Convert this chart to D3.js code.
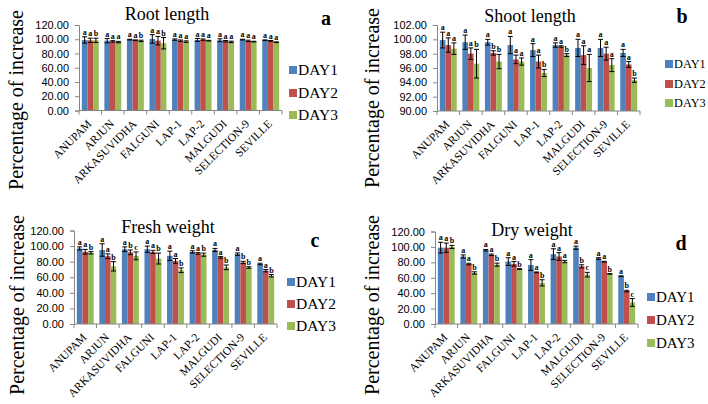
<!DOCTYPE html>
<html>
<head>
<meta charset="utf-8">
<script src="https://cdn.jsdelivr.net/npm/d3@7"></script>
<style>
  body { margin: 0; background: #fff; }
  svg { display: block; }
</style>
</head>
<body>
<div id="chart"></div>
<script>
const cultivars = ["ANUPAM", "ARJUN", "ARKASUVIDHA", "FALGUNI", "LAP-1", "LAP-2", "MALGUDI", "SELECTION-9", "SEVILLE"];
const days = ["DAY1", "DAY2", "DAY3"];
const colors = ["#4F81BD", "#C0504D", "#9BBB59"];

// rows = DAY1, DAY2, DAY3
const rootMean = [
  [99, 98, 99.5, 100.5, 99.5, 99, 98.6, 99.5, 98.6],
  [98.5, 97, 98.6, 98, 98, 99.5, 97.2, 97.7, 97.7],
  [98.5, 96, 97.7, 94.4, 96.7, 98, 96.3, 96.7, 95.8]
];
const rootErr = [
  [4.5, 3, 0.5, 6, 1, 2, 2, 0.5, 0.5],
  [3, 1, 0.5, 6, 1, 1, 1, 1, 0.5],
  [3, 1, 1, 8, 1, 0.5, 1, 0.5, 0.5]
];
const rootSig = [
  ["a", "a", "a", "a", "a", "a", "a", "a", "a"],
  ["a", "a", "a", "a", "a", "a", "a", "a", "a"],
  ["b", "a", "b", "b", "a", "a", "a", "a", "a"]
];

const shootMean = [
  [99.9, 99.6, 99.6, 99.2, 98.5, 99.2, 98.8, 98.8, 98.1],
  [99.2, 98.0, 98.1, 97.2, 96.9, 99.0, 97.8, 98.0, 96.5],
  [98.7, 96.6, 96.9, 96.9, 95.3, 97.8, 96.0, 96.4, 94.3]
];
const shootErr = [
  [1.1, 1.0, 0.4, 1.2, 0.9, 0.3, 1.2, 1.2, 0.5],
  [1.0, 0.8, 0.3, 0.6, 0.9, 0.1, 1.3, 0.9, 0.4],
  [0.8, 2.0, 1.0, 0.5, 0.5, 0.2, 1.9, 0.9, 0.3]
];
const shootSig = [
  ["a", "a", "a", "a", "a", "a", "a", "a", "a"],
  ["a", "a", "b", "a", "a", "a", "a", "a", "a"],
  ["a", "b", "b", "a", "b", "b", "a", "a", "b"]
];

const freshMean = [
  [97, 95, 96, 96, 87.5, 92.5, 95, 89.7, 77],
  [92.7, 87, 92, 92.5, 81, 90.6, 85.5, 79, 68.4],
  [91.4, 74, 87.5, 84, 69, 89, 72.7, 72.5, 62]
];
const freshErr = [
  [2, 8, 3, 4, 6, 1.5, 2, 1.5, 1],
  [3, 3, 3, 2, 3, 1, 1, 1.5, 1.5],
  [1.5, 6, 5, 7, 3, 2, 3, 1, 1.5]
];
const freshSig = [
  ["a", "a", "a", "a", "a", "a", "a", "a", "a"],
  ["a", "a", "b", "a", "a", "a", "a", "b", "a"],
  ["b", "b", "c", "b", "b", "b", "b", "b", "b"]
];

const dryMean = [
  [99, 87.6, 95.7, 81, 76.5, 90.6, 99, 85, 62],
  [99, 77.8, 89.7, 78, 67, 87.6, 74.8, 80.8, 42.7],
  [100, 66.2, 77, 71.3, 53.4, 81, 64, 65, 28]
];
const dryErr = [
  [7, 2, 1, 5, 7, 7, 2, 1, 0.5],
  [6, 1, 1, 3, 0.5, 5, 2, 0.5, 1],
  [2, 1.5, 2, 0.5, 4, 1.5, 3, 0.3, 5]
];
const drySig = [
  ["a", "a", "a", "a", "a", "a", "a", "a", "a"],
  ["a", "a", "a", "a", "a", "a", "b", "a", "b"],
  ["b", "b", "b", "b", "b", "a", "c", "b", "c"]
];

const rootTicks = [0, 20, 40, 60, 80, 100, 120];
const shootTicks = [90, 92, 94, 96, 98, 100, 102];

const W = 708, H = 404;
const svg = d3.select("#chart").append("svg")
  .attr("width", W).attr("height", H)
  .attr("viewBox", `0 0 ${W} ${H}`);

const panels = [
  { title: "Root length", tag: "a", mean: rootMean, err: rootErr, sig: rootSig, ticks: rootTicks,
    left: 79, top: 25, bottom: 110.5, width: 203, titleX: 167, titleY: 20, tagX: 326, tagY: 25,
    axTitleX: 16, axTitleY: 100, legX: 289, legY: [70, 93, 115], legSize: 15.5 },
  { title: "Shoot length", tag: "b", mean: shootMean, err: shootErr, sig: shootSig, ticks: shootTicks,
    left: 437, top: 25, bottom: 111, width: 203, titleX: 530, titleY: 22, tagX: 682, tagY: 23,
    axTitleX: 372, axTitleY: 98, legX: 665, legY: [64, 84, 103], legSize: 12.3 },
  { title: "Fresh weight", tag: "c", mean: freshMean, err: freshErr, sig: freshSig, ticks: rootTicks,
    left: 74, top: 230.5, bottom: 324, width: 203, titleX: 168, titleY: 233, tagX: 315, tagY: 247,
    axTitleX: 17, axTitleY: 305, legX: 287, legY: [282, 304, 326], legSize: 15.5 },
  { title: "Dry weight", tag: "d", mean: dryMean, err: dryErr, sig: drySig, ticks: rootTicks,
    left: 435, top: 231.5, bottom: 324, width: 203, titleX: 532, titleY: 236, tagX: 681, tagY: 250,
    axTitleX: 372, axTitleY: 305, legX: 647, legY: [297, 320, 343], legSize: 15 }
];

panels.forEach(p => {
  const g = svg.append("g");

  const x0 = d3.scaleBand()
    .domain(cultivars)
    .range([p.left, p.left + p.width])
    .paddingInner(0.25)
    .paddingOuter(0.125);

  const x1 = d3.scaleBand()
    .domain(days)
    .range([0, x0.bandwidth()]);

  const y = d3.scaleLinear()
    .domain(d3.extent(p.ticks))
    .range([p.bottom, p.top]);

  const base = d3.min(p.ticks);

  // bars, error bars, letters
  days.forEach((day, di) => {
    const rows = cultivars.map((c, ci) => ({
      c, m: p.mean[di][ci], e: p.err[di][ci], s: p.sig[di][ci]
    }));
    const bx = d => x0(d.c) + x1(day);
    const bw = x1.bandwidth();

    g.selectAll(null).data(rows).enter().append("rect")
      .attr("x", bx)
      .attr("y", d => y(d.m))
      .attr("width", bw)
      .attr("height", d => y(base) - y(d.m))
      .attr("fill", colors[di]);

    const eb = g.selectAll(null).data(rows).enter().append("g")
      .attr("stroke", "#000").attr("stroke-width", 1);
    eb.append("line")
      .attr("x1", d => bx(d) + bw / 2).attr("x2", d => bx(d) + bw / 2)
      .attr("y1", d => y(Math.min(d.m + d.e, p.ticks[p.ticks.length - 1])))
      .attr("y2", d => y(Math.max(d.m - d.e, base)));
    eb.append("line")
      .attr("x1", d => bx(d) + bw / 2 - 2.5).attr("x2", d => bx(d) + bw / 2 + 2.5)
      .attr("y1", d => y(d.m + d.e)).attr("y2", d => y(d.m + d.e));
    eb.append("line")
      .attr("x1", d => bx(d) + bw / 2 - 2.5).attr("x2", d => bx(d) + bw / 2 + 2.5)
      .attr("y1", d => y(d.m - d.e)).attr("y2", d => y(d.m - d.e));

    g.selectAll(null).data(rows).enter().append("text")
      .attr("x", d => bx(d) + bw / 2)
      .attr("y", d => y(d.m + d.e) - 2)
      .attr("text-anchor", "middle")
      .style("font-family", "'Liberation Serif', serif")
      .style("font-weight", "bold")
      .style("font-size", "8px")
      .text(d => d.s);
  });

  // y axis
  const yAxis = d3.axisLeft(y)
    .tickValues(p.ticks)
    .tickFormat(d3.format(".2f"))
    .tickSize(4)
    .tickPadding(6);
  const ya = g.append("g")
    .attr("transform", `translate(${p.left},0)`)
    .call(yAxis);
  ya.select(".domain").attr("stroke", "#868686");
  ya.selectAll(".tick line").attr("stroke", "#868686");
  ya.selectAll(".tick text")
    .style("font-family", "'Liberation Sans', Arial, sans-serif")
    .style("font-size", "11px")
    .attr("fill", "#000");

  // x axis with ticks between categories
  const step = x0.step();
  g.append("line")
    .attr("x1", p.left).attr("x2", p.left + p.width)
    .attr("y1", p.bottom).attr("y2", p.bottom)
    .attr("stroke", "#868686");
  const bounds = cultivars.map(c => x0(c) - (step - x0.bandwidth()) / 2)
    .concat([p.left + p.width]);
  g.selectAll(null).data(bounds).enter().append("line")
    .attr("x1", d => d).attr("x2", d => d)
    .attr("y1", p.bottom).attr("y2", p.bottom + 4)
    .attr("stroke", "#868686");

  g.selectAll(null).data(cultivars).enter().append("text")
    .attr("transform", c => `translate(${x0(c) + x0.bandwidth() / 2 + 2},${p.bottom + 14}) rotate(-45)`)
    .attr("text-anchor", "end")
    .style("font-family", "'Liberation Serif', 'Times New Roman', serif")
    .style("font-size", "11.5px")
    .text(c => c);

  // title, tag, axis title
  g.append("text")
    .attr("x", p.titleX).attr("y", p.titleY)
    .attr("text-anchor", "middle")
    .style("font-family", "'Liberation Serif', serif")
    .style("font-size", "18px")
    .text(p.title);

  g.append("text")
    .attr("x", p.tagX).attr("y", p.tagY)
    .attr("text-anchor", "middle")
    .style("font-family", "'Liberation Serif', serif")
    .style("font-weight", "bold")
    .style("font-size", "20px")
    .text(p.tag);

  g.append("text")
    .attr("transform", `translate(${p.axTitleX + 7},${p.axTitleY}) rotate(-90)`)
    .attr("text-anchor", "middle")
    .style("font-family", "'Liberation Serif', serif")
    .style("font-size", "20px")
    .text("Percentage of increase");

  // legend
  const leg = g.selectAll(null).data(days).enter().append("g")
    .attr("transform", (d, i) => `translate(${p.legX},${p.legY[i]})`);
  leg.append("rect")
    .attr("x", 0).attr("y", -4)
    .attr("width", 8).attr("height", 8)
    .attr("fill", (d, i) => colors[i]);
  leg.append("text")
    .attr("x", 9).attr("y", 0).attr("dy", "0.35em")
    .style("font-family", "'Liberation Serif', serif")
    .style("font-size", p.legSize + "px")
    .text(d => d);
});
</script>
</body>
</html>
